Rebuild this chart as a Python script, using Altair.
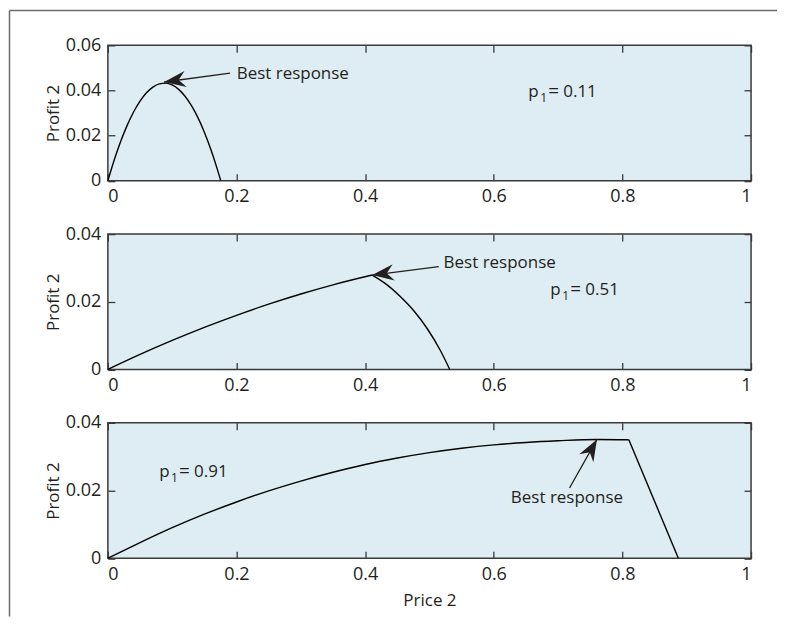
import altair as alt
import pandas as pd

FONT = "Open Sans"
INK = "#231f20"
HEAD = "M0,0 L0.75,2 L0,1.35 L-0.75,2 Z"

price_ticks = [0, 0.2, 0.4, 0.6, 0.8, 1]

# Panel 1: p1 = 0.11
top_price = [0, 0.01, 0.02, 0.03, 0.04, 0.05, 0.06, 0.07, 0.08, 0.09, 0.10,
             0.11, 0.12, 0.13, 0.14, 0.15, 0.16, 0.17, 0.1755]
top_profit = [0, 0.0093, 0.01748, 0.02453, 0.03046, 0.03527, 0.03895, 0.0415,
              0.04294, 0.04325, 0.04243, 0.04049, 0.03743, 0.03324, 0.02793,
              0.0215, 0.01394, 0.00525, 0]
top_seg = [0] * 19
top_yticks = [0, 0.02, 0.04, 0.06]

# Panel 2: p1 = 0.51 (rising branch, then falling branch from the kink)
mid_price = [0, 0.05, 0.1, 0.15, 0.2, 0.25, 0.3, 0.35, 0.411,
             0.411, 0.43, 0.455, 0.475, 0.4964, 0.517, 0.5316]
mid_profit = [0, 0.00443, 0.00857, 0.01243, 0.016, 0.01929, 0.02229, 0.02501,
              0.0279, 0.0279, 0.0256, 0.0215, 0.0175, 0.0121, 0.0056, 0]
mid_seg = [0] * 9 + [1] * 7
mid_yticks = [0, 0.02, 0.04]

# Panel 3: p1 = 0.91
bot_price = [0, 0.05, 0.1, 0.15, 0.2, 0.25, 0.3, 0.35, 0.4, 0.45, 0.5, 0.55,
             0.6, 0.65, 0.7, 0.76, 0.81, 0.81, 0.887]
bot_profit = [0, 0.0046, 0.009, 0.013, 0.0166, 0.0199, 0.0228, 0.0254,
              0.0277, 0.0296, 0.0312, 0.0325, 0.0335, 0.0342, 0.0347, 0.0351,
              0.0350, 0.0350, 0]
bot_seg = [0] * 17 + [1] * 2
bot_yticks = [0, 0.02, 0.04]

# Annotations
p1_values = ["0.11", "0.51", "0.91"]
p1_x = [0.6537, 0.688, 0.0797]
p1_base = [0.0371, 0.02198, 0.024]
br_text = "Best response"
br_x = [0.2003, 0.522, 0.7138]
br_y = [0.04716, 0.0314, 0.01765]
br_align = ["left", "left", "center"]
tail_x = [0.190, 0.5145, 0.7178]
tail_y = [0.04773, 0.0304, 0.02076]
tip_x = [0.0875, 0.411, 0.7604]
tip_y = [0.04375, 0.0279, 0.0351]
head_angle = [262.2, 262.9, 29.4]

W, H = 644, 135.5


def make_panel(i, price, profit, seg, ymax, yticks, xtitle, frame):
    df = pd.DataFrame({"price": price, "profit": profit, "seg": seg})
    xs = alt.Scale(domain=[0, 1], nice=False, zero=False)
    ys = alt.Scale(domain=[0, ymax], nice=False, zero=False)
    common = dict(offset=-7, tickSize=7, domain=False, grid=False)
    bottom = alt.Axis(orient="bottom", values=price_ticks, format="~g",
                      labelPadding=7, title=xtitle, titlePadding=9, **common)
    left = alt.Axis(orient="left", values=yticks, format="~g",
                    labelPadding=7, title="Profit 2", titlePadding=3, **common)
    topax = alt.Axis(orient="top", values=price_ticks, labels=False,
                     title=None, **common)
    rightax = alt.Axis(orient="right", values=yticks, labels=False,
                       title=None, **common)

    curve = alt.Chart(df).mark_line(color="black", strokeWidth=1.4,
                                    interpolate="monotone").encode(
        x=alt.X("price:Q", scale=xs, axis=bottom),
        y=alt.Y("profit:Q", scale=ys, axis=left),
        detail="seg:N",
    )
    mirror = alt.Chart(df).mark_line(strokeOpacity=0).encode(
        x=alt.X("price:Q", scale=xs, axis=topax),
        y=alt.Y("profit:Q", scale=ys, axis=rightax),
        detail="seg:N",
    )
    adf = pd.DataFrame({"x": [tail_x[i]], "y": [tail_y[i]],
                        "x2": [tip_x[i]], "y2": [tip_y[i]]})
    shaft = alt.Chart(adf).mark_rule(color=INK, strokeWidth=1.3).encode(
        x=alt.X("x:Q", scale=xs, axis=None),
        y=alt.Y("y:Q", scale=ys, axis=None),
        x2="x2:Q", y2="y2:Q",
    )
    head = alt.Chart(adf).mark_point(
        shape=HEAD, size=470, angle=head_angle[i], filled=True,
        color=INK, opacity=1,
    ).encode(
        x=alt.X("x2:Q", scale=xs, axis=None),
        y=alt.Y("y2:Q", scale=ys, axis=None),
    )
    bdf = pd.DataFrame({"x": [br_x[i]], "y": [br_y[i]], "t": [br_text]})
    br = alt.Chart(bdf).mark_text(
        font=FONT, fontSize=17, color=INK, align=br_align[i], baseline="middle"
    ).encode(
        x=alt.X("x:Q", scale=xs, axis=None),
        y=alt.Y("y:Q", scale=ys, axis=None),
        text="t:N",
    )
    pdf = pd.DataFrame({"x": [p1_x[i]], "y": [p1_base[i]],
                        "p": ["p"], "s": ["1"], "e": ["="], "v": [p1_values[i]]})

    def piece(field, dx, dy, size):
        return alt.Chart(pdf).mark_text(
            font=FONT, fontSize=size, color=INK, align="left",
            baseline="alphabetic", dx=dx, dy=dy,
        ).encode(
            x=alt.X("x:Q", scale=xs, axis=None),
            y=alt.Y("y:Q", scale=ys, axis=None),
            text=f"{field}:N",
        )

    layers = [curve, mirror, shaft, head, br,
              piece("p", 0, 0, 17), piece("s", 12, 5, 12),
              piece("e", 20, 0, 19), piece("v", 35, 0, 17)]
    if frame:
        one = pd.DataFrame({"a": [0]})
        top_line = alt.Chart(one).mark_rule(color="#6b6b6b", strokeWidth=1.5).encode(
            x=alt.value(-98.5), x2=alt.value(670), y=alt.value(-35))
        left_line = alt.Chart(one).mark_rule(color="#6b6b6b", strokeWidth=1.5).encode(
            x=alt.value(-98.5), y=alt.value(-35), y2=alt.value(572))
        layers += [top_line, left_line]
    return alt.layer(*layers).resolve_axis(x="independent", y="independent").properties(
        width=W, height=H)


p_top = make_panel(0, top_price, top_profit, top_seg, 0.06, top_yticks, None, True)
p_mid = make_panel(1, mid_price, mid_profit, mid_seg, 0.04, mid_yticks, None, False)
p_bot = make_panel(2, bot_price, bot_profit, bot_seg, 0.04, bot_yticks, "Price 2", False)

chart = alt.vconcat(p_top, p_mid, p_bot, spacing=53, bounds="flush").properties(
    padding=0, background="white"
).configure_view(
    fill="#deedf4", stroke="#3a3a3a", strokeWidth=1.5
).configure_axis(
    labelFont=FONT, titleFont=FONT, labelFontSize=18, titleFontSize=17,
    labelColor=INK, titleColor=INK, tickColor="#3a3a3a", tickWidth=1.3,
    titleFontWeight="normal",
)

chart.save("out.html", embed_options={"renderer": "svg", "actions": False})
